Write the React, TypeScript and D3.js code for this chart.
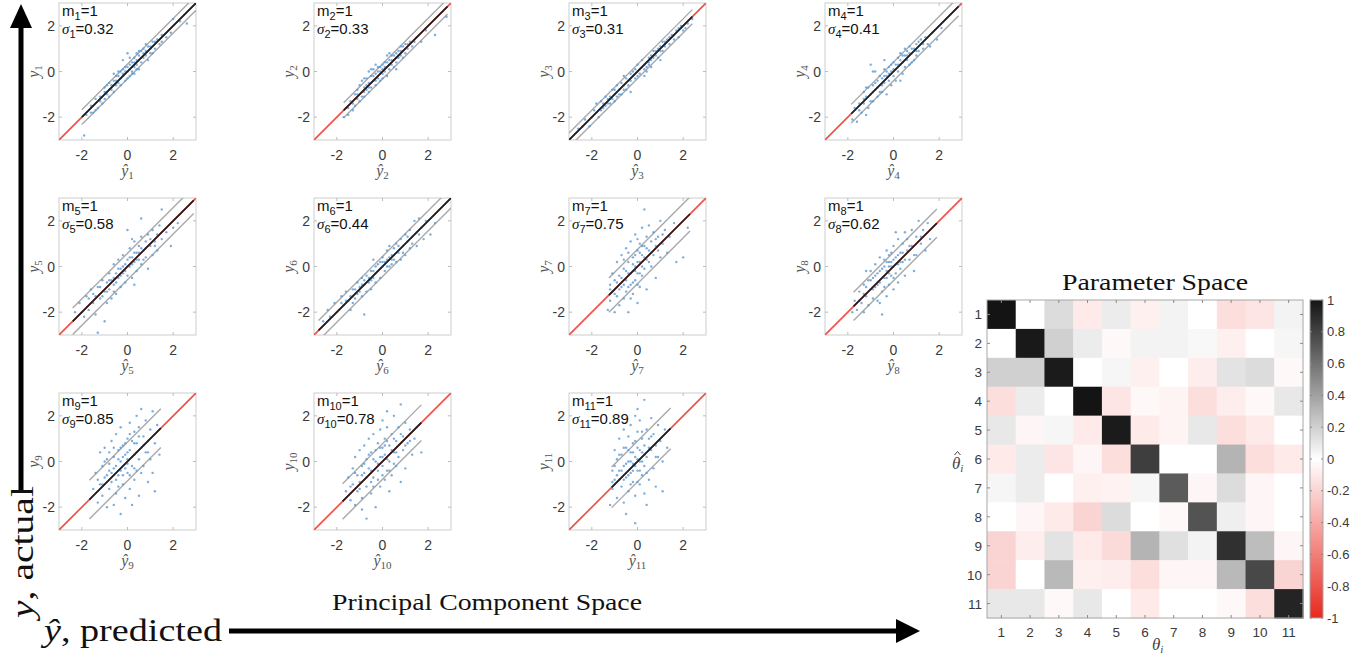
import React from "react";
import * as d3 from "d3";

// ---------- DATA ----------
const panelTicks = [-2, 0, 2];
const slopeValues = [1, 1, 1, 1, 1, 1, 1, 1, 1, 1, 1];
const sigmaValues = [0.32, 0.33, 0.31, 0.41, 0.58, 0.44, 0.75, 0.62, 0.85, 0.78, 0.89];
const fitRanges: [number, number][] = [
  [-2.0, 3.0], [-1.7, 2.85], [-3.0, 2.4], [-1.85, 2.85],
  [-2.4, 2.9], [-2.8, 3.0], [-1.25, 2.3], [-1.75, 1.9],
  [-1.67, 1.46], [-1.75, 1.7], [-1.13, 1.45],
];

const points1 = [[-1.9,-2.8],[-1.8,-1.9],[-1.6,-1.5],[-1.5,-1.8],[-1.4,-1.2],[-1.3,-1.6],[-1.2,-1.1],[-1.1,-1.4],[-1.0,-0.7],[-1.0,-1.2],[-0.9,-0.9],[-0.8,-0.5],[-0.8,-1.1],[-0.7,-0.8],[-0.6,-0.4],[-0.6,-0.9],[-0.5,-0.6],[-0.5,-0.2],[-0.4,-0.5],[-0.4,0.0],[-0.3,-0.3],[-0.3,-0.6],[-0.2,0.1],[-0.2,-0.2],[-0.1,-0.4],[-0.1,0.2],[0.0,0.0],[0.0,-0.3],[0.0,0.8],[0.1,0.1],[0.1,-0.2],[0.2,0.4],[0.2,0.0],[0.3,0.2],[0.3,0.6],[0.3,-0.1],[0.4,0.8],[0.4,0.3],[0.5,0.5],[0.5,0.1],[0.6,0.9],[0.6,0.4],[0.7,0.6],[0.7,1.0],[0.8,0.7],[0.8,1.2],[0.9,0.9],[0.9,0.5],[1.0,1.1],[1.0,0.8],[1.1,1.3],[1.2,1.0],[1.3,1.4],[1.4,1.2],[1.5,1.6],[1.7,1.5],[1.9,1.7],[2.0,2.3],[2.3,2.2],[2.6,2.1],[-0.2,0.5],[0.1,0.6],[-0.6,-0.1],[0.5,0.9],[1.1,0.8],[-1.4,-1.7],[-0.9,-0.6]];
const points1b = [[-1.2,-1.3],[-1.0,-0.9],[-0.8,-0.8],[-0.7,-0.6],[-0.5,-0.4],[-0.4,-0.2],[-0.3,0.0],[-0.2,-0.1],[-0.1,0.0],[0.0,0.2],[0.1,0.3],[0.2,0.2],[0.3,0.4],[0.4,0.5],[0.5,0.7],[0.6,0.6],[0.7,0.8],[0.8,0.9],[0.9,1.1],[1.0,1.0],[1.2,1.3],[-1.6,-1.8],[-0.6,-0.6],[0.2,-0.1],[0.4,0.1],[-0.9,-1.0],[1.5,1.3]];
const points2 = [[-1.7,-2.0],[-1.6,-1.6],[-1.5,-1.9],[-1.4,-1.3],[-1.3,-1.7],[-1.2,-1.0],[-1.2,-1.5],[-1.1,-1.2],[-1.0,-0.6],[-1.0,-1.3],[-0.9,-0.9],[-0.9,-0.4],[-0.8,-0.7],[-0.8,-1.1],[-0.7,-0.3],[-0.7,-0.8],[-0.6,-0.5],[-0.6,0.0],[-0.5,-0.7],[-0.5,-0.2],[-0.4,-0.4],[-0.4,0.1],[-0.3,-0.1],[-0.3,-0.6],[-0.2,0.2],[-0.2,-0.3],[-0.1,0.0],[-0.1,-0.4],[0.0,0.3],[0.0,-0.1],[0.1,0.0],[0.1,0.4],[0.2,0.2],[0.2,-0.2],[0.3,0.5],[0.3,0.1],[0.4,0.3],[0.4,0.7],[0.5,0.5],[0.5,0.2],[0.6,0.8],[0.6,0.4],[0.7,0.9],[0.7,0.6],[0.8,0.7],[0.8,1.1],[0.9,0.9],[0.9,0.6],[1.0,1.2],[1.0,0.8],[1.1,1.0],[1.2,1.3],[1.3,1.1],[1.5,1.5],[1.7,1.3],[1.9,1.8],[2.3,1.6],[2.8,2.4],[-0.6,-0.9],[-0.3,0.3],[0.2,0.7],[0.6,0.1],[-1.1,-0.8],[-0.8,-0.3]];
const points2b = [[-1.3,-1.4],[-1.1,-1.0],[-0.9,-1.1],[-0.7,-0.6],[-0.6,-0.7],[-0.5,-0.5],[-0.4,-0.2],[-0.3,-0.4],[-0.2,0.0],[-0.1,0.2],[0.0,0.1],[0.1,0.2],[0.2,0.4],[0.3,0.3],[0.4,0.5],[0.5,0.7],[0.6,0.6],[0.7,0.7],[0.8,0.9],[0.9,1.1],[1.1,1.2],[-1.5,-1.6],[-0.8,-0.9],[0.0,-0.3],[-0.5,0.1],[0.3,0.8],[1.4,1.3]];
const points3 = [[-2.6,-2.5],[-2.3,-2.1],[-2.1,-2.4],[-1.9,-1.7],[-1.8,-1.4],[-1.7,-2.0],[-1.6,-1.3],[-1.5,-1.6],[-1.4,-1.1],[-1.4,-1.5],[-1.3,-1.2],[-1.2,-1.4],[-1.1,-0.8],[-1.1,-1.2],[-1.0,-1.0],[-0.9,-0.6],[-0.9,-1.1],[-0.8,-0.8],[-0.7,-0.5],[-0.7,-1.0],[-0.6,-0.6],[-0.5,-0.3],[-0.5,-0.8],[-0.4,-0.4],[-0.3,-0.1],[-0.3,-0.9],[-0.2,-0.2],[-0.1,0.1],[-0.1,-0.3],[0.0,0.0],[0.0,0.3],[0.1,-0.1],[0.2,0.2],[0.2,0.5],[0.3,0.1],[0.4,0.4],[0.4,0.0],[0.5,0.6],[0.5,0.3],[0.6,0.5],[0.7,0.9],[0.7,0.6],[0.8,0.7],[0.9,1.0],[0.9,0.6],[1.0,0.9],[1.1,1.3],[1.1,0.9],[1.2,1.1],[1.3,1.4],[1.4,1.2],[1.5,1.6],[1.6,1.4],[1.7,1.8],[1.8,1.5],[1.9,2.0],[2.0,1.8],[2.2,2.1],[2.4,2.3],[-0.6,-0.2],[0.3,-0.2],[1.0,0.5],[-1.6,-1.7],[0.6,0.2]];
const points3b = [[-2.4,-2.4],[-2.0,-2.0],[-1.8,-1.8],[-1.5,-1.4],[-1.3,-1.4],[-1.2,-1.1],[-1.0,-0.8],[-0.8,-1.0],[-0.6,-0.8],[-0.4,-0.6],[-0.2,0.0],[0.1,0.1],[0.3,0.3],[0.5,0.4],[0.6,0.7],[0.8,0.9],[1.0,1.1],[1.2,1.3],[1.4,1.5],[1.6,1.6],[1.8,1.9],[-0.3,-0.4],[0.0,-0.2],[0.4,0.2],[-1.0,-1.3],[2.1,1.9]];
const points4 = [[-1.8,-2.1],[-1.7,-1.6],[-1.6,-2.2],[-1.5,-1.4],[-1.4,-1.8],[-1.3,-0.9],[-1.3,-1.4],[-1.2,-1.1],[-1.1,-1.6],[-1.1,-0.7],[-1.0,-1.0],[-1.0,0.3],[-0.9,-0.6],[-0.9,-1.3],[-0.8,0.0],[-0.8,-0.8],[-0.7,-0.4],[-0.7,-1.1],[-0.6,-0.6],[-0.6,-0.2],[-0.5,-0.9],[-0.5,-0.3],[-0.4,0.1],[-0.4,-0.5],[-0.3,-0.2],[-0.3,-1.0],[-0.2,0.2],[-0.2,-0.4],[-0.1,0.0],[-0.1,-0.6],[0.0,0.4],[0.0,-0.2],[0.1,0.1],[0.1,-0.4],[0.2,0.6],[0.2,0.0],[0.3,0.3],[0.3,0.8],[0.4,0.4],[0.4,-0.1],[0.5,0.7],[0.5,0.2],[0.6,0.9],[0.6,0.5],[0.7,0.3],[0.7,1.1],[0.8,0.8],[0.9,1.0],[0.9,0.5],[1.0,1.2],[1.0,0.7],[1.1,0.9],[1.2,1.4],[1.3,1.0],[1.4,1.5],[1.5,1.2],[1.7,1.7],[1.9,1.4],[2.1,1.9],[-0.4,0.5],[0.8,0.4],[-1.2,-1.9],[0.3,-0.4],[1.6,1.1]];
const points4b = [[-1.5,-1.7],[-1.3,-1.2],[-1.2,-0.7],[-1.0,-1.3],[-0.9,-0.9],[-0.8,-0.5],[-0.7,-0.7],[-0.6,-0.9],[-0.5,-0.6],[-0.4,-0.2],[-0.3,0.0],[-0.2,-0.1],[-0.1,0.3],[0.0,0.1],[0.1,0.3],[0.2,0.3],[0.3,0.5],[0.4,0.7],[0.5,0.5],[0.6,0.7],[0.7,0.8],[0.8,1.0],[1.0,0.9],[1.1,1.3],[1.3,1.2],[-0.9,0.0],[0.5,1.0]];
const points5 = [[-2.3,-2.0],[-2.1,-1.6],[-1.9,-2.2],[-1.8,-1.3],[-1.7,-1.9],[-1.6,-1.0],[-1.5,-1.6],[-1.4,-2.1],[-1.3,-2.9],[-1.3,-0.9],[-1.2,-1.4],[-1.1,-0.6],[-1.0,-2.4],[-1.0,-1.1],[-0.9,-0.7],[-0.9,-1.6],[-0.8,-0.3],[-0.8,-1.0],[-0.7,-0.6],[-0.7,-1.4],[-0.6,0.1],[-0.6,-0.8],[-0.5,-0.3],[-0.5,-1.2],[-0.4,0.3],[-0.4,-0.5],[-0.3,-0.1],[-0.3,-0.9],[-0.2,0.5],[-0.2,-0.3],[-0.1,0.1],[-0.1,-0.7],[0.0,1.6],[0.0,0.3],[0.0,-0.4],[0.1,0.8],[0.1,0.0],[0.2,0.4],[0.2,-0.5],[0.3,1.1],[0.3,0.2],[0.4,0.6],[0.4,-0.2],[0.5,0.9],[0.5,0.3],[0.6,2.1],[0.6,1.3],[0.6,0.1],[0.7,0.7],[0.8,1.1],[0.8,0.4],[0.9,1.4],[0.9,-0.1],[1.0,0.9],[1.1,1.6],[1.1,0.5],[1.2,1.1],[1.3,0.7],[1.4,1.8],[1.5,2.5],[1.5,1.2],[1.7,1.5],[1.9,0.9],[2.0,1.7],[2.2,1.9],[-1.5,-1.2],[0.3,-0.8]];
const points5b = [[-2.0,-2.0],[-1.7,-1.4],[-1.4,-1.3],[-1.2,-0.9],[-1.1,-1.3],[-0.9,-1.1],[-0.8,-0.6],[-0.6,-0.5],[-0.5,-0.7],[-0.4,-0.1],[-0.3,-0.4],[-0.2,0.0],[-0.1,-0.2],[0.0,0.0],[0.1,0.4],[0.2,0.1],[0.3,0.6],[0.4,0.3],[0.5,0.6],[0.6,0.8],[0.7,0.3],[0.8,0.8],[1.0,1.2],[1.2,0.9],[1.3,1.4],[0.2,1.2],[-0.6,-1.1]];
const points6 = [[-2.6,-2.4],[-2.4,-1.9],[-2.2,-2.2],[-2.1,-1.6],[-1.9,-1.9],[-1.8,-1.3],[-1.7,-1.7],[-1.6,-1.1],[-1.5,-1.5],[-1.4,-1.9],[-1.3,-1.0],[-1.2,-1.4],[-1.1,-0.7],[-1.1,-1.2],[-1.0,-0.9],[-0.9,-0.5],[-0.9,-1.3],[-0.8,-2.1],[-0.8,-0.8],[-0.7,-0.4],[-0.7,-1.1],[-0.6,-0.7],[-0.5,-0.2],[-0.5,-1.0],[-0.4,-0.5],[-0.3,0.0],[-0.3,-0.7],[-0.2,-0.2],[-0.1,0.2],[-0.1,-0.5],[0.0,0.0],[0.0,0.4],[0.1,-0.2],[0.2,0.3],[0.2,0.7],[0.3,0.0],[0.4,0.5],[0.4,0.1],[0.5,0.8],[0.5,0.3],[0.6,1.0],[0.6,0.2],[0.7,0.6],[0.8,1.2],[0.8,0.3],[0.9,0.9],[1.0,1.4],[1.0,0.5],[1.1,1.1],[1.2,1.6],[1.2,0.8],[1.3,1.3],[1.4,2.0],[1.5,1.5],[1.5,0.9],[1.6,2.1],[1.7,1.7],[1.8,1.2],[1.9,2.0],[2.1,1.4],[2.3,1.9],[-1.3,-1.6],[0.3,0.9],[-0.4,0.3]];
const points6b = [[-2.3,-2.2],[-2.0,-2.0],[-1.8,-1.6],[-1.6,-1.5],[-1.4,-1.3],[-1.3,-1.3],[-1.2,-1.0],[-1.0,-1.1],[-0.9,-0.8],[-0.8,-0.6],[-0.6,-0.5],[-0.5,-0.6],[-0.4,-0.2],[-0.3,-0.3],[-0.2,0.1],[-0.1,-0.1],[0.0,0.2],[0.1,0.2],[0.2,0.0],[0.3,0.4],[0.4,0.3],[0.5,0.5],[0.7,0.9],[0.9,0.6],[1.1,1.3],[1.3,1.0],[1.6,1.4]];
const points7 = [[-1.3,-1.9],[-1.2,-0.8],[-1.2,-1.5],[-1.1,-0.3],[-1.1,-1.1],[-1.0,-2.0],[-1.0,-0.6],[-0.9,0.2],[-0.9,-1.3],[-0.8,-0.4],[-0.8,-1.7],[-0.7,0.5],[-0.7,-0.9],[-0.6,-0.1],[-0.6,-1.4],[-0.5,0.8],[-0.5,-0.6],[-0.5,-1.1],[-0.4,0.2],[-0.4,-0.3],[-0.4,-2.0],[-0.3,1.1],[-0.3,-0.8],[-0.2,0.4],[-0.2,-0.2],[-0.2,-1.2],[-0.1,1.4],[-0.1,0.0],[-0.1,-0.6],[0.0,0.7],[0.0,-0.3],[0.0,-1.6],[0.1,1.0],[0.1,0.2],[0.1,-0.9],[0.2,1.7],[0.2,0.5],[0.2,-0.4],[0.3,2.5],[0.3,0.9],[0.3,-0.1],[0.4,1.3],[0.4,0.3],[0.4,-1.0],[0.5,0.7],[0.5,1.8],[0.6,0.0],[0.6,1.1],[0.7,0.5],[0.7,1.5],[0.8,-0.5],[0.8,0.9],[0.9,1.3],[1.0,0.4],[1.0,2.0],[1.1,1.0],[1.2,1.6],[1.3,0.6],[1.4,1.3],[1.6,1.9],[1.7,0.2],[2.0,0.4],[2.2,1.7],[-0.6,0.3],[0.0,1.2],[-0.3,-1.4]];
const points7b = [[-1.2,-1.0],[-1.0,-1.2],[-0.9,-0.7],[-0.8,-1.0],[-0.7,-0.5],[-0.6,-0.8],[-0.5,-0.2],[-0.4,-0.9],[-0.4,0.6],[-0.3,-0.3],[-0.2,0.1],[-0.2,-0.7],[-0.1,0.5],[-0.1,-0.2],[0.0,0.2],[0.0,-0.8],[0.1,0.6],[0.1,-0.3],[0.2,0.9],[0.2,0.0],[0.3,0.4],[0.4,0.8],[0.5,0.2],[0.6,0.6],[0.8,1.2],[0.9,0.7],[1.1,1.4]];
const points8 = [[-1.8,-2.0],[-1.7,-1.5],[-1.6,-1.9],[-1.5,-1.1],[-1.4,-1.6],[-1.3,-0.8],[-1.3,-2.0],[-1.2,-1.3],[-1.1,-0.6],[-1.1,-1.7],[-1.0,-1.0],[-1.0,-0.2],[-0.9,-1.4],[-0.9,-0.5],[-0.8,0.1],[-0.8,-0.9],[-0.7,-1.5],[-0.7,-0.3],[-0.6,0.4],[-0.6,-0.7],[-0.5,-2.1],[-0.5,-0.1],[-0.5,-1.1],[-0.4,0.3],[-0.4,-0.5],[-0.3,0.7],[-0.3,-0.2],[-0.3,-1.3],[-0.2,0.0],[-0.2,0.5],[-0.2,-0.8],[-0.1,0.2],[-0.1,-0.4],[0.0,0.9],[0.0,0.0],[0.0,-1.0],[0.1,0.4],[0.1,-0.3],[0.2,1.2],[0.2,0.1],[0.2,-0.7],[0.3,0.6],[0.3,-0.1],[0.4,1.0],[0.4,0.2],[0.5,1.5],[0.5,-0.4],[0.6,0.7],[0.6,1.2],[0.7,0.3],[0.8,1.6],[0.8,0.9],[0.9,-0.2],[1.0,1.3],[1.0,0.5],[1.1,2.0],[1.2,1.0],[1.3,1.6],[1.4,0.7],[1.5,1.9],[1.6,1.2],[-1.2,-0.2],[0.1,1.5],[-0.6,-1.6]];
const points8b = [[-1.5,-1.5],[-1.3,-1.2],[-1.2,-0.9],[-1.0,-0.6],[-0.9,-1.0],[-0.8,-0.4],[-0.7,-0.8],[-0.6,-0.2],[-0.5,-0.5],[-0.4,0.0],[-0.4,-0.9],[-0.3,0.2],[-0.3,-0.5],[-0.2,0.2],[-0.2,-0.3],[-0.1,0.0],[-0.1,0.6],[0.0,0.3],[0.0,-0.5],[0.1,0.1],[0.2,0.5],[0.3,0.2],[0.4,0.6],[0.5,0.3],[0.7,0.9],[0.9,0.5],[1.2,1.3]];
const points9 = [[-1.5,-1.2],[-1.4,-0.5],[-1.3,-1.8],[-1.2,0.4],[-1.2,-1.0],[-1.1,-0.2],[-1.1,-1.5],[-1.0,0.6],[-1.0,-0.7],[-0.9,-2.0],[-0.9,0.1],[-0.8,-1.2],[-0.8,-0.4],[-0.7,0.9],[-0.7,-0.9],[-0.6,-1.9],[-0.6,0.2],[-0.6,-0.3],[-0.5,1.2],[-0.5,-1.4],[-0.4,0.5],[-0.4,-0.6],[-0.3,-2.3],[-0.3,0.0],[-0.3,1.5],[-0.2,-1.0],[-0.2,0.7],[-0.1,-0.3],[-0.1,0.3],[-0.1,-1.6],[0.0,1.0],[0.0,-0.5],[0.0,0.1],[0.1,1.7],[0.1,-1.2],[0.1,0.5],[0.2,-0.2],[0.2,0.9],[0.3,-0.8],[0.3,1.3],[0.3,0.3],[0.4,2.0],[0.4,-0.4],[0.4,0.8],[0.5,0.1],[0.5,1.5],[0.5,-1.5],[0.6,0.6],[0.6,2.3],[0.7,-0.2],[0.7,1.1],[0.8,0.4],[0.8,1.8],[0.9,-0.9],[0.9,0.9],[1.0,1.4],[1.0,0.1],[1.1,2.2],[1.1,-0.5],[1.2,0.8],[1.2,-1.3],[1.3,1.6],[1.4,0.3],[-0.8,0.4],[0.2,-1.9],[-0.4,-1.1]];
const points9b = [[-1.3,-0.8],[-1.1,-1.0],[-1.0,0.0],[-0.9,-0.6],[-0.8,-0.1],[-0.7,-0.5],[-0.6,0.6],[-0.5,-0.2],[-0.5,-0.8],[-0.4,0.1],[-0.3,-0.4],[-0.3,0.6],[-0.2,0.2],[-0.2,-0.6],[-0.1,0.8],[0.0,-0.1],[0.0,0.4],[0.1,-0.6],[0.1,1.2],[0.2,0.2],[0.3,-0.3],[0.3,0.8],[0.4,0.4],[0.5,1.1],[0.6,-0.5],[0.7,0.7],[0.9,0.4]];
const points10 = [[-1.6,-1.3],[-1.5,-0.7],[-1.4,-1.7],[-1.3,-0.3],[-1.3,-1.0],[-1.2,-1.9],[-1.2,0.2],[-1.1,-0.6],[-1.1,-1.3],[-1.0,0.5],[-1.0,-0.9],[-0.9,-0.2],[-0.9,-1.6],[-0.8,0.7],[-0.8,-0.5],[-0.7,-2.5],[-0.7,-1.1],[-0.7,0.1],[-0.6,1.0],[-0.6,-0.3],[-0.5,-1.4],[-0.5,0.4],[-0.4,-0.7],[-0.4,1.2],[-0.3,0.0],[-0.3,-2.0],[-0.2,0.8],[-0.2,-0.4],[-0.1,1.4],[-0.1,0.2],[-0.1,-1.1],[0.0,0.6],[0.0,-0.2],[0.0,1.8],[0.1,-0.8],[0.1,1.0],[0.1,0.3],[0.2,-0.4],[0.2,1.5],[0.3,0.7],[0.3,-1.3],[0.3,0.0],[0.4,1.2],[0.4,-0.6],[0.5,0.4],[0.5,2.0],[0.6,0.9],[0.6,-0.2],[0.7,1.5],[0.7,0.2],[0.8,2.5],[0.8,-0.9],[0.9,1.1],[0.9,0.5],[1.0,1.7],[1.0,-0.3],[1.1,0.8],[1.2,1.4],[1.3,0.3],[1.4,1.0],[1.5,1.5],[1.7,0.4],[-0.9,-2.1],[0.2,2.2],[-0.5,-0.9]];
const points10b = [[-1.4,-1.1],[-1.2,-0.5],[-1.0,-1.2],[-0.9,-0.6],[-0.8,-0.1],[-0.7,-0.7],[-0.6,0.3],[-0.5,-0.4],[-0.4,0.1],[-0.4,-1.1],[-0.3,0.5],[-0.2,-0.1],[-0.2,-0.8],[-0.1,0.6],[0.0,0.2],[0.0,-0.6],[0.1,0.7],[0.2,0.1],[0.2,0.9],[0.3,-0.4],[0.4,0.5],[0.5,1.0],[0.5,-0.1],[0.6,0.4],[0.8,1.2],[1.0,0.7],[1.2,0.9]];
const points11 = [[-1.2,-1.9],[-1.1,-0.4],[-1.1,-1.2],[-1.0,0.5],[-1.0,-0.8],[-0.9,-1.6],[-0.9,0.1],[-0.8,-0.4],[-0.8,1.0],[-0.7,-1.1],[-0.7,0.3],[-0.6,-0.2],[-0.6,1.4],[-0.6,-1.8],[-0.5,0.6],[-0.5,-0.7],[-0.5,-2.3],[-0.4,0.0],[-0.4,1.1],[-0.4,-1.3],[-0.3,0.4],[-0.3,-0.5],[-0.3,1.6],[-0.2,-0.9],[-0.2,0.8],[-0.2,-0.1],[-0.1,2.0],[-0.1,-1.5],[-0.1,0.2],[-0.1,-2.7],[0.0,0.6],[0.0,-0.4],[0.0,1.3],[0.1,-1.0],[0.1,0.0],[0.1,1.8],[0.2,0.4],[0.2,-0.6],[0.2,1.0],[0.3,2.7],[0.3,-0.2],[0.3,0.7],[0.3,-1.4],[0.4,1.4],[0.4,0.2],[0.5,-0.8],[0.5,1.0],[0.6,0.5],[0.6,1.9],[0.7,-0.3],[0.7,1.2],[0.8,0.7],[0.8,-1.1],[0.9,1.6],[0.9,0.2],[1.0,0.9],[1.1,0.0],[1.1,-1.3],[1.2,1.4],[1.3,0.6],[-0.8,-0.8],[0.0,2.3],[0.4,-1.9]];
const points11b = [[-1.1,-0.9],[-1.0,-0.2],[-0.9,-0.6],[-0.8,0.3],[-0.7,-0.4],[-0.6,-0.8],[-0.6,0.6],[-0.5,-0.1],[-0.4,-0.6],[-0.4,0.5],[-0.3,0.0],[-0.3,-1.0],[-0.2,0.4],[-0.2,-0.4],[-0.1,0.9],[-0.1,-0.2],[0.0,0.1],[0.0,-0.9],[0.1,0.5],[0.1,-0.4],[0.2,1.3],[0.2,0.0],[0.3,0.3],[0.4,-0.5],[0.5,0.6],[0.6,1.1],[0.8,0.2]];
const panelPoints = [
  points1.concat(points1b), points2.concat(points2b), points3.concat(points3b),
  points4.concat(points4b), points5.concat(points5b), points6.concat(points6b),
  points7.concat(points7b), points8.concat(points8b), points9.concat(points9b),
  points10.concat(points10b), points11.concat(points11b),
];

const paramLabels = ["1", "2", "3", "4", "5", "6", "7", "8", "9", "10", "11"];
const corrMatrix = [
  [1.0, 0.0, 0.15, -0.1, 0.08, -0.07, 0.05, 0.0, -0.15, -0.12, 0.05],
  [0.0, 0.98, 0.2, 0.08, -0.03, 0.05, 0.05, 0.03, -0.07, 0.0, 0.04],
  [0.2, 0.2, 0.97, 0.0, 0.04, -0.07, 0.0, -0.08, 0.12, 0.15, -0.03],
  [-0.15, 0.08, 0.0, 1.0, -0.12, -0.03, -0.05, -0.15, -0.08, -0.03, 0.1],
  [0.1, -0.04, 0.04, -0.1, 0.97, -0.1, -0.05, 0.1, -0.15, -0.1, 0.0],
  [-0.1, 0.08, -0.12, -0.04, -0.15, 0.82, 0.0, 0.0, 0.32, -0.15, -0.1],
  [0.04, 0.08, 0.0, -0.07, -0.06, 0.04, 0.7, -0.04, 0.15, -0.04, 0.0],
  [0.0, -0.04, -0.1, -0.2, 0.15, 0.0, -0.03, 0.73, 0.07, -0.04, 0.0],
  [-0.2, -0.08, 0.12, -0.1, -0.17, 0.32, 0.13, 0.05, 0.88, 0.28, -0.04],
  [-0.2, 0.0, 0.3, -0.07, -0.08, -0.15, -0.04, -0.04, 0.3, 0.78, -0.2],
  [0.1, 0.1, -0.03, 0.1, 0.0, -0.1, 0.0, 0.0, -0.03, -0.15, 0.93],
];
const colorbarTicks = [1, 0.8, 0.6, 0.4, 0.2, 0, -0.2, -0.4, -0.6, -0.8, -1];

// ---------- LAYOUT ----------
const W = 1367, H = 656;
const PW = 137, PH = 137;
const colLefts = [59, 314, 569, 825];
const rowTops = [3, 198, 393];
const SANS = "'Liberation Sans', Arial, sans-serif";
const SERIF = "'Liberation Serif', 'DejaVu Serif', serif";

const colorScale = (v: number) =>
  v >= 0 ? d3.interpolateRgb("#ffffff", "#141414")(v) : d3.interpolateRgb("#ffffff", "#e8291f")(-v);

function Panel({ i }: { i: number }) {
  const col = i < 8 ? i % 4 : i - 8;
  const row = i < 4 ? 0 : i < 8 ? 1 : 2;
  const left = colLefts[col], top = rowTops[row];
  const x = d3.scaleLinear().domain([-3, 3]).range([left, left + PW]);
  const y = d3.scaleLinear().domain([-3, 3]).range([top + PH, top]);
  const line = d3.line<number[]>().x((d) => x(d[0])).y((d) => y(d[1]));
  const m = slopeValues[i], s = sigmaValues[i];
  const [a, b] = fitRanges[i];
  const n = i + 1;
  const clipId = `clip${n}`;
  return (
    <g>
      <defs>
        <clipPath id={clipId}>
          <rect x={left} y={top} width={PW} height={PH} />
        </clipPath>
      </defs>
      <rect x={left} y={top} width={PW} height={PH} fill="#fff" stroke="#cdcdcd" strokeWidth={1} />
      {panelTicks.map((t) => (
        <g key={t} stroke="#bdbdbd" strokeWidth={1}>
          <line x1={x(t)} x2={x(t)} y1={top + PH} y2={top + PH - 3} />
          <line x1={x(t)} x2={x(t)} y1={top} y2={top + 3} />
          <line x1={left} x2={left + 3} y1={y(t)} y2={y(t)} />
          <line x1={left + PW} x2={left + PW - 3} y1={y(t)} y2={y(t)} />
        </g>
      ))}
      <g clipPath={`url(#${clipId})`}>
        <path d={line([[-3, -3], [3, 3]])!} stroke="#ef5247" strokeWidth={1.7} fill="none" />
        <path d={line([[a, m * a + s], [b, m * b + s]])!} stroke="#a9a9a9" strokeWidth={1.4} fill="none" />
        <path d={line([[a, m * a - s], [b, m * b - s]])!} stroke="#a9a9a9" strokeWidth={1.4} fill="none" />
        {panelPoints[i].map((p, k) => (
          <circle key={k} cx={x(p[0])} cy={y(p[1])} r={1.2} fill="#5a9ad6" fillOpacity={0.8} />
        ))}
        <path d={line([[a, m * a], [b, m * b]])!} stroke="#1e1e1e" strokeWidth={1.7} fill="none" />
      </g>
      {panelTicks.map((t) => (
        <text key={"x" + t} x={x(t)} y={top + PH + 20} textAnchor="middle" fontFamily={SANS} fontSize={14} fill="#3a3a3a">
          {t}
        </text>
      ))}
      {panelTicks.map((t) => (
        <text key={"y" + t} x={left - 4} y={y(t) + 5} textAnchor="end" fontFamily={SANS} fontSize={14} fill="#3a3a3a">
          {t}
        </text>
      ))}
      <text x={left + 3} y={top + 13} fontFamily={SANS} fontSize={15} fill="#111">
        m<tspan dy={4} fontSize={11}>{n}</tspan>
        <tspan dy={-4}>={m}</tspan>
      </text>
      <text x={left + 3} y={top + 31} fontFamily={SANS} fontSize={15} fill="#111">
        <tspan fontStyle="italic" fontFamily={SERIF}>σ</tspan>
        <tspan dy={4} fontSize={11}>{n}</tspan>
        <tspan dy={-4}>={s.toFixed(2)}</tspan>
      </text>
      <text
        transform={`translate(${left - 20},${top + PH / 2}) rotate(-90)`}
        textAnchor="middle"
        fontFamily={SERIF}
        fontStyle="italic"
        fontSize={16}
        fill="#555"
      >
        y<tspan dy={3} fontSize={11} fontStyle="normal">{n}</tspan>
      </text>
      <text x={left + PW / 2} y={top + PH + 36} textAnchor="middle" fontFamily={SERIF} fontStyle="italic" fontSize={16} fill="#555">
        ŷ<tspan dy={3} fontSize={11} fontStyle="normal">{n}</tspan>
      </text>
    </g>
  );
}

function Heatmap() {
  const hx = d3.scaleBand<string>().domain(paramLabels).range([987, 1303]);
  const hy = d3.scaleBand<string>().domain(paramLabels).range([300, 618]);
  const cb = d3.scaleLinear().domain([-1, 1]).range([618, 300]);
  const stops = d3.range(0, 21).map((k) => -1 + k * 0.1);
  return (
    <g>
      <defs>
        <linearGradient id="cbGrad" x1="0" y1="1" x2="0" y2="0">
          {stops.map((v) => (
            <stop key={v} offset={`${((v + 1) / 2) * 100}%`} stopColor={colorScale(v)} />
          ))}
        </linearGradient>
      </defs>
      {corrMatrix.map((rowVals, r) =>
        rowVals.map((v, c) => (
          <rect
            key={`${r}-${c}`}
            x={hx(paramLabels[c])!}
            y={hy(paramLabels[r])!}
            width={hx.bandwidth() + 0.5}
            height={hy.bandwidth() + 0.5}
            fill={colorScale(v)}
          />
        ))
      )}
      <rect x={987} y={300} width={316} height={318} fill="none" stroke="#a8a8a8" strokeWidth={1} />
      {paramLabels.map((l) => (
        <g key={l} stroke="#8a8a8a" strokeWidth={1}>
          <line x1={hx(l)! + hx.bandwidth() / 2} x2={hx(l)! + hx.bandwidth() / 2} y1={618} y2={615} />
          <line x1={hx(l)! + hx.bandwidth() / 2} x2={hx(l)! + hx.bandwidth() / 2} y1={300} y2={303} />
          <line x1={987} x2={990} y1={hy(l)! + hy.bandwidth() / 2} y2={hy(l)! + hy.bandwidth() / 2} />
          <line x1={1303} x2={1300} y1={hy(l)! + hy.bandwidth() / 2} y2={hy(l)! + hy.bandwidth() / 2} />
        </g>
      ))}
      {paramLabels.map((l) => (
        <text key={"hx" + l} x={hx(l)! + hx.bandwidth() / 2} y={637} textAnchor="middle" fontFamily={SANS} fontSize={13.5} fill="#3a3a3a">
          {l}
        </text>
      ))}
      {paramLabels.map((l) => (
        <text key={"hy" + l} x={982} y={hy(l)! + hy.bandwidth() / 2 + 5} textAnchor="end" fontFamily={SANS} fontSize={13.5} fill="#3a3a3a">
          {l}
        </text>
      ))}
      <text x={1155} y={290} textAnchor="middle" fontFamily={SERIF} fontSize={24} fill="#111" textLength={186} lengthAdjust="spacingAndGlyphs">
        Parameter Space
      </text>
      <text x={1152} y={650} fontFamily={SERIF} fontStyle="italic" fontSize={17} fill="#444">
        θ<tspan dy={3} fontSize={11}>i</tspan>
      </text>
      <text x={952} y={469} fontFamily={SERIF} fontStyle="italic" fontSize={17} fill="#444">
        θ<tspan dy={3} fontSize={11}>i</tspan>
      </text>
      <path d="M954.5,455 L957.5,451.5 L960.5,455" fill="none" stroke="#444" strokeWidth={1} />
      <rect x={1310} y={300} width={13} height={318} fill="url(#cbGrad)" stroke="#a8a8a8" strokeWidth={1} />
      {colorbarTicks.map((t) => (
        <g key={"cb" + t}>
          <line x1={1310} x2={1312} y1={cb(t)} y2={cb(t)} stroke="#8a8a8a" />
          <line x1={1323} x2={1321} y1={cb(t)} y2={cb(t)} stroke="#8a8a8a" />
          <text x={1327} y={cb(t) + 4.5} fontFamily={SANS} fontSize={13} fill="#3a3a3a">
            {t}
          </text>
        </g>
      ))}
    </g>
  );
}

export default function App() {
  return (
    <svg width={W} height={H} style={{ position: "absolute", left: 0, top: 0, background: "#fff" }}>
      <rect width={W} height={H} fill="#fff" />
      {sigmaValues.map((_, i) => (
        <Panel key={i} i={i} />
      ))}
      <Heatmap />
      {/* vertical arrow */}
      <rect x={18.5} y={26} width={5} height={466} fill="#000" />
      <path d="M21,4 L10,28 L32,28 Z" fill="#000" />
      <text
        transform="translate(33,618) rotate(-90)"
        fontFamily={SERIF}
        fontSize={31}
        fill="#111"
        textLength={132}
        lengthAdjust="spacingAndGlyphs"
      >
        <tspan fontStyle="italic">y</tspan>, actual
      </text>
      {/* horizontal arrow */}
      <rect x={229} y={628.5} width={670} height={5} fill="#000" />
      <path d="M920,631 L896,619 L896,643 Z" fill="#000" />
      <text x={44} y={641} fontFamily={SERIF} fontSize={31} fill="#111" textLength={178} lengthAdjust="spacingAndGlyphs">
        <tspan fontStyle="italic">ŷ</tspan>, predicted
      </text>
      <text x={332} y={610} fontFamily={SERIF} fontSize={23} fill="#111" textLength={310} lengthAdjust="spacingAndGlyphs">
        Principal Component Space
      </text>
    </svg>
  );
}
